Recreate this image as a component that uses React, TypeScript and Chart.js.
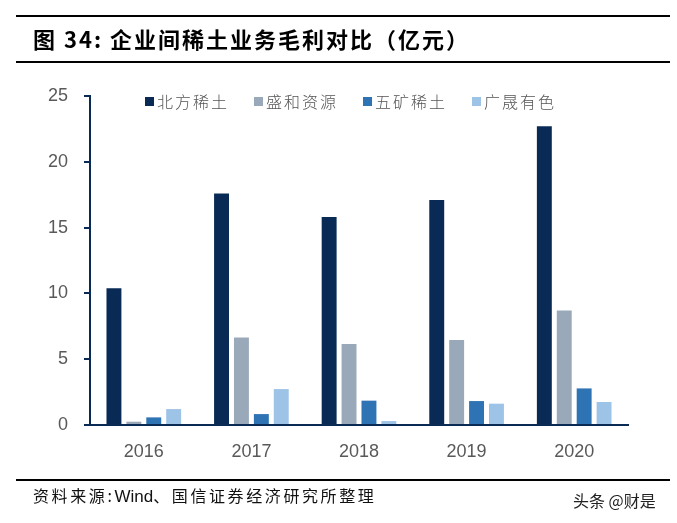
import { useEffect, useRef } from "react";
import { Chart, registerables } from "chart.js";

Chart.register(...registerables);

const years = ["2016", "2017", "2018", "2019", "2020"];
const seriesNames = ["北方稀土", "盛和资源", "五矿稀土", "广晟有色"];
const beifang = [10.4, 17.6, 15.8, 17.1, 22.7];
const shenghe = [0.25, 6.65, 6.15, 6.45, 8.7];
const wukuang = [0.58, 0.83, 1.85, 1.82, 2.78];
const guangsheng = [1.21, 2.73, 0.3, 1.62, 1.75];
const seriesColors = ["#0a2a56", "#9aa9b9", "#2e74b5", "#9dc3e6"];
const yTicks = [0, 5, 10, 15, 20, 25];

const NAVY = "#0a2a56";
const CJK = '"Noto Sans CJK SC", sans-serif';
const LATIN = '"Liberation Sans", Arial, sans-serif';

const BarChart = () => {
  const ref = useRef<HTMLCanvasElement>(null);

  useEffect(() => {
    const values = [beifang, shenghe, wukuang, guangsheng];
    const chart = new Chart(ref.current!, {
      type: "bar",
      data: {
        labels: years,
        datasets: seriesNames.map((name, i) => ({
          label: name,
          data: values[i],
          backgroundColor: seriesColors[i],
          borderWidth: 0,
          barPercentage: 0.75,
          categoryPercentage: 0.74,
        })),
      },
      options: {
        responsive: false,
        animation: false,
        layout: { padding: { top: 96, left: 0, right: 49, bottom: 57 } },
        plugins: { legend: { display: false }, tooltip: { enabled: false } },
        scales: {
          x: {
            grid: { display: false },
            border: { color: NAVY, width: 2 },
            ticks: { color: "#595959", font: { family: LATIN, size: 18 }, padding: 8 },
            afterFit: (s: any) => {
              s.height = 41;
            },
          },
          y: {
            min: 0,
            max: 25,
            afterBuildTicks: (s: any) => {
              s.ticks = yTicks.map((v) => ({ value: v }));
            },
            grid: {
              drawOnChartArea: false,
              drawTicks: true,
              tickLength: 6,
              color: NAVY,
              lineWidth: 2,
            },
            border: { color: NAVY, width: 2 },
            ticks: { color: "#595959", font: { family: LATIN, size: 18 }, padding: 16 },
            afterFit: (s: any) => {
              s.width = 90;
            },
          },
        },
      },
    });
    return () => chart.destroy();
  }, []);

  return <canvas ref={ref} width={677} height={523} style={{ position: "absolute", left: 0, top: 0 }} />;
};

const App = () => {
  return (
    <div
      style={{
        position: "fixed",
        left: 0,
        top: 0,
        width: 677,
        height: 523,
        background: "#fff",
        overflow: "hidden",
      }}
    >
      <BarChart />
      <div style={{ position: "absolute", left: 16, top: 15, width: 654, height: 2, background: "#000" }} />
      <div
        style={{
          position: "absolute",
          left: 33,
          top: 24,
          fontFamily: CJK,
          fontWeight: 700,
          fontSize: 22,
          letterSpacing: 2,
          lineHeight: "28px",
          color: "#000",
          whiteSpace: "nowrap",
        }}
      >
        图&nbsp;34:&nbsp;企业间稀土业务毛利对比（亿元）
      </div>
      <div style={{ position: "absolute", left: 16, top: 61, width: 654, height: 2, background: "#000" }} />
      <div
        style={{
          position: "absolute",
          left: 145,
          top: 90,
          display: "flex",
          gap: 25,
          fontFamily: CJK,
          fontWeight: 300,
          fontSize: 16,
          letterSpacing: 2,
          lineHeight: "22px",
          color: "#555",
          whiteSpace: "nowrap",
        }}
      >
        {seriesNames.map((name, i) => (
          <div key={name} style={{ display: "flex", alignItems: "center" }}>
            <span style={{ width: 9, height: 9, background: seriesColors[i], marginRight: 3 }} />
            {name}
          </div>
        ))}
      </div>
      <div style={{ position: "absolute", left: 16, top: 479, width: 654, height: 2, background: "#000" }} />
      <div
        style={{
          position: "absolute",
          left: 33,
          top: 484,
          fontFamily: CJK,
          fontSize: 16,
          letterSpacing: 2.6,
          lineHeight: "22px",
          color: "#111",
          whiteSpace: "nowrap",
        }}
      >
        资料来源:<span style={{ fontFamily: LATIN, fontSize: 17, letterSpacing: 0 }}>Wind</span>、国信证券经济研究所整理
      </div>
      <div
        style={{
          position: "absolute",
          left: 573,
          top: 489,
          fontFamily: CJK,
          fontSize: 16,
          lineHeight: "22px",
          color: "#222",
          whiteSpace: "nowrap",
        }}
      >
        头条 @财是
      </div>
    </div>
  );
};

export default App;
